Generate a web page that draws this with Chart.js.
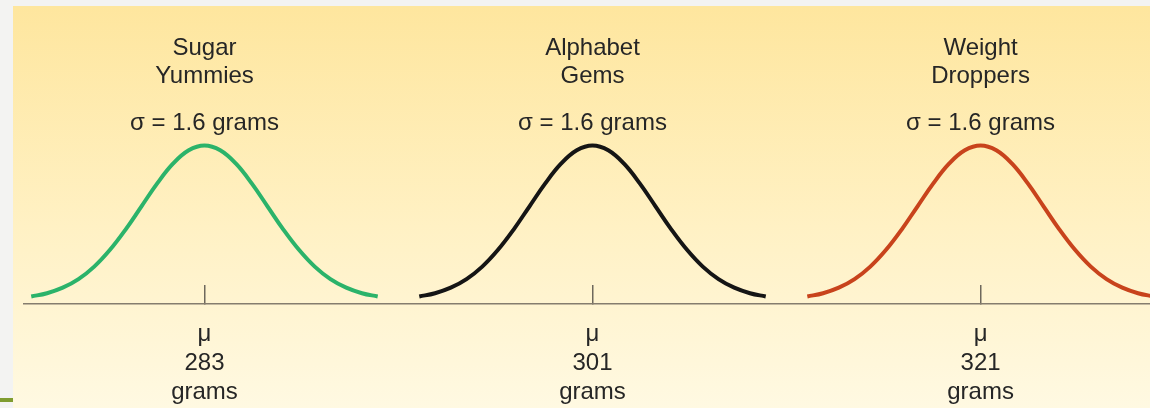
<!DOCTYPE html>
<html lang="en">
<head>
    <meta charset="UTF-8">
    <title>Cereal Box Weights</title>
    <script src="https://cdn.jsdelivr.net/npm/chart.js"></script>
    <style>
        html, body { margin: 0; padding: 0; }
        body { width: 1150px; height: 408px; position: relative; overflow: hidden; background: #f3f3f2; }
        .panel { position: absolute; left: 13px; top: 6px; right: 0; bottom: 0;
                 background: linear-gradient(to bottom, #fee69e 0%, #fff1c4 55%, #fff9e2 100%); }
        .edge { position: absolute; left: 0; top: 398px; width: 13px; height: 4px; background: #7f9c30; }
        #curves { position: absolute; left: 0; top: 0; }
    </style>
</head>
<body>
    <div class="panel"></div>
    <div class="edge"></div>
    <canvas id="curves" width="1150" height="408"></canvas>

    <script>
        // three brands, same spread, different means
        const brands = [['Sugar', 'Yummies'], ['Alphabet', 'Gems'], ['Weight', 'Droppers']];
        const means = [283, 301, 321];
        const sigmas = [1.6, 1.6, 1.6];
        const colors = ['#2bb36a', '#151515', '#c8431c'];

        // where each curve sits on the drawing (in sigma units)
        const centers = [0, 6.16, 12.32];

        // curve height, from -2.75 sigma to +2.75 sigma
        const offsets = [-2.75, -2.5, -2.25, -2, -1.75, -1.5, -1.25, -1, -0.75, -0.5, -0.25, 0,
                         0.25, 0.5, 0.75, 1, 1.25, 1.5, 1.75, 2, 2.25, 2.5, 2.75];
        const heights = [7.5, 10.8, 16.3, 24.9, 37.4, 54.2, 74.7, 97.7, 120.6, 140.3, 153.7, 158.5,
                         153.7, 140.3, 120.6, 97.7, 74.7, 54.2, 37.4, 24.9, 16.3, 10.8, 7.5];

        const X_MIN = -2.865, X_MAX = 15.01;
        const font = { family: "'Liberation Sans', Arial, sans-serif", size: 24, lineHeight: '28.3px' };
        const textColor = '#262626';

        const datasets = centers.map((c, i) => ({
            label: brands[i].join(' '),
            data: offsets.map((o, k) => ({ x: c + o, y: heights[k] })),
            borderColor: colors[i],
            borderWidth: 4,
            pointRadius: 0,
            tension: 0.4,
            fill: false
        }));

        const putTicks = scale => { scale.ticks = centers.map(v => ({ value: v })); };

        function topAxis(height, padding, label) {
            return {
                type: 'linear', position: 'top', min: X_MIN, max: X_MAX,
                grid: { display: false, drawTicks: false },
                border: { display: false },
                ticks: { padding: padding, font: font, color: textColor, crossAlign: 'near',
                         maxRotation: 0, autoSkip: false, callback: label },
                afterBuildTicks: putTicks,
                afterFit: s => { s.height = height; }
            };
        }

        new Chart(document.getElementById('curves'), {
            type: 'line',
            data: { datasets: datasets },
            options: {
                responsive: false,
                animation: false,
                layout: { padding: { left: 24, right: 0, top: 0, bottom: 0 } },
                plugins: { legend: { display: false }, tooltip: { enabled: false } },
                scales: {
                    x: {
                        type: 'linear', position: 'bottom', min: X_MIN, max: X_MAX,
                        grid: { display: true, drawOnChartArea: false, drawTicks: true,
                                tickLength: -19, color: '#6e685c', lineWidth: 1.5 },
                        border: { display: true, color: '#857d6e', width: 1.5 },
                        ticks: { padding: 34.5, color: textColor, maxRotation: 0, autoSkip: false,
                                 font: { family: font.family, size: 24, lineHeight: '29px' },
                                 callback: (v, i) => ['\u03bc', String(means[i]), 'grams'] },
                        afterBuildTicks: putTicks,
                        afterFit: s => { s.height = 104; }
                    },
                    sig: topAxis(40, 2, (v, i) => '\u03c3 = ' + sigmas[i] + ' grams'),
                    names: topAxis(100, 9, (v, i) => brands[i]),
                    y: { min: 0, max: 164, display: false }
                }
            }
        });
    </script>
</body>
</html>
